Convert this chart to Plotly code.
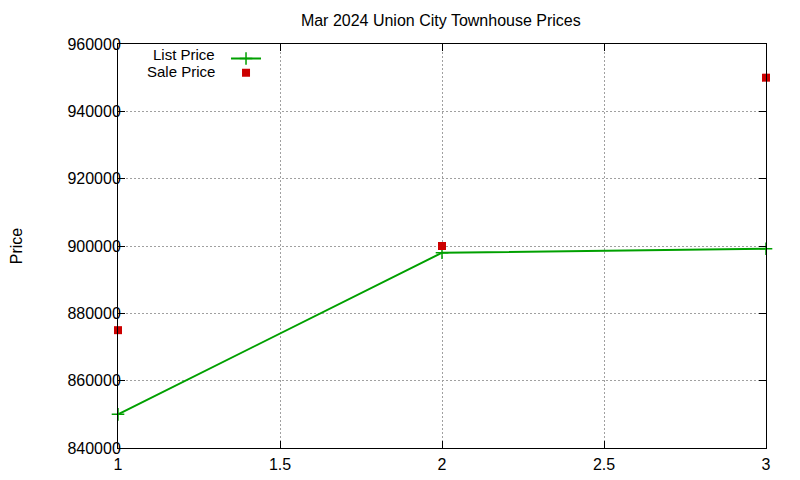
import plotly.graph_objects as go

# listing index (1..3) and prices
listing = [1, 2, 3]
list_price = [850000, 898000, 899200]
sale_price = [875000, 900000, 950000]

x_ticks = [1, 1.5, 2, 2.5, 3]
y_ticks = [840000, 860000, 880000, 900000, 920000, 940000, 960000]

green = '#00a000'
red = '#cc0000'
font = 'Liberation Sans, Arial, sans-serif'

fig = go.Figure()
fig.add_trace(go.Scatter(
    x=listing, y=list_price, mode='lines+markers', name='List Price',
    line=dict(color=green, width=2),
    marker=dict(symbol='cross-thin', size=9, line=dict(color=green, width=1.5)),
    cliponaxis=False, legend='legend',
))
fig.add_trace(go.Scatter(
    x=listing, y=sale_price, mode='markers', name='Sale Price',
    marker=dict(symbol='square', size=8, color=red),
    cliponaxis=False, legend='legend2',
))

axis_style = dict(
    showline=True, linecolor='black', linewidth=1, mirror='ticks',
    ticks='inside', ticklen=7, tickcolor='black',
    showgrid=True, gridcolor='#a0a0a0', griddash='2px,2px', gridwidth=1,
    zeroline=False, tickfont=dict(size=16, color='black'),
)

fig.update_xaxes(range=[1, 3], tickvals=x_ticks, ticktext=[str(t) for t in x_ticks],
                 ticklabelstandoff=2, **axis_style)
fig.update_yaxes(range=[840000, 960000], tickvals=y_ticks, tickformat='d',
                 ticklabelstandoff=-7, automargin=False,
                 title=dict(text='Price', font=dict(size=16, color='black'), standoff=44),
                 **axis_style)

# gnuplot style key: label text on the left, sample on the right
fig.add_annotation(text='List Price', xref='x domain', yref='y domain', x=0.1528, y=0.975,
                   xanchor='right', yanchor='middle', showarrow=False, font=dict(size=15))
fig.add_annotation(text='Sale Price', xref='x domain', yref='y domain', x=0.1528, y=0.931,
                   xanchor='right', yanchor='middle', showarrow=False, font=dict(size=15))

key_style = dict(xanchor='left', yanchor='top', bgcolor='rgba(0,0,0,0)',
                 font=dict(size=9, color='rgba(0,0,0,0)'))

fig.update_layout(
    width=800, height=480,
    margin=dict(l=110, r=42, t=36, b=40),
    paper_bgcolor='white', plot_bgcolor='white',
    font=dict(family=font, size=16, color='black'),
    title=dict(text='Mar 2024 Union City Townhouse Prices', x=0.541, xanchor='center',
               y=0.975, yanchor='middle', font=dict(size=16)),
    legend=dict(x=0.1667, y=1.0, **key_style),
    legend2=dict(x=0.1667, y=0.965, **key_style),
    showlegend=True,
)

fig.write_html('out.html')
